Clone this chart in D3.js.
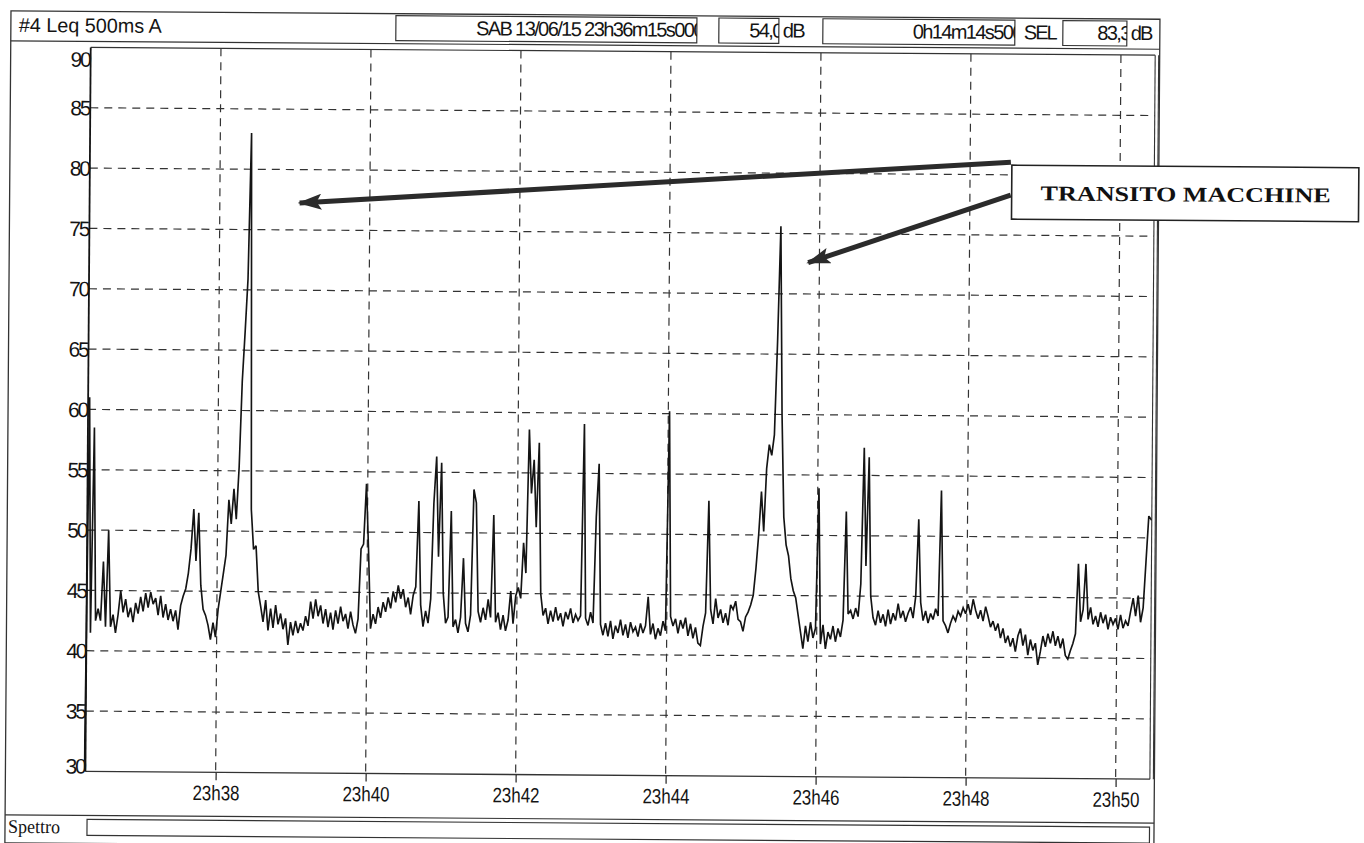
<!DOCTYPE html>
<html>
<head>
<meta charset="utf-8">
<script src="https://cdn.jsdelivr.net/npm/d3@7"></script>
<style>
  html, body { margin: 0; padding: 0; background: #ffffff; }
  svg { display: block; font-family: "Liberation Sans", Arial, sans-serif; }
</style>
</head>
<body>
<svg id="chart" width="1364" height="843"></svg>
<script>
// Leq 500 ms (A) sound level, sampled every 2 s from 23h36m15s
const startTime = new Date(2015, 5, 13, 23, 36, 15);
const stepSeconds = 2;
const durationSeconds = 855;

const leq = [
  30, 61, 41.5, 58.5, 42.5, 43.5, 42.5, 47.4, 42,
  50, 42, 43, 41.5, 43, 45, 43.2, 44.3, 42.8, 43.6,
  42.4, 44.0, 43.1, 44.5, 43.3, 44.8, 43.6, 44.9, 43.9, 44.4,
  43.0, 44.6, 42.8, 43.9, 42.6, 43.5, 42.5, 43.4, 41.8, 43.8,
  44.6, 45.2, 46.5, 48.5, 51.8, 47.5, 51.5, 45.5, 43.5, 43.0,
  42.2, 41.0, 42.4, 41.2, 43.5, 45.0, 46.5, 48.0, 52.6, 50.6,
  53.5, 51.0, 55.3, 62.4, 66.5, 70.9, 83.0, 51.8, 48.5, 48.8,
  45.0, 43.8, 42.5, 44.3, 41.8, 43.6, 42.0, 43.9, 42.3, 43.2,
  41.9, 42.8, 40.6, 42.5, 41.4, 42.6, 41.6, 42.4, 41.8, 43.0,
  42.2, 44.2, 42.8, 44.4, 43.0, 43.9, 42.4, 43.6, 42.1, 43.3,
  41.9, 43.5, 42.4, 43.8, 42.6, 43.2, 42.0, 43.4, 42.3, 41.6,
  42.8, 48.6, 49.0, 54.0, 48.5, 42.0, 43.2, 42.4, 43.8, 42.9,
  44.2, 43.4, 44.6, 43.7, 45.1, 44.2, 45.6, 44.5, 45.3, 43.8,
  44.6, 43.2, 44.8, 45.5, 52.6, 44.0, 42.2, 43.5, 42.5, 44.5,
  52.4, 56.3, 48.0, 55.8, 45.0, 42.5, 43.0, 51.8, 42.2, 42.8,
  41.7, 43.0, 47.9, 42.5, 41.8, 43.2, 53.6, 52.5, 43.5, 42.6,
  43.8, 42.8, 44.5, 43.0, 51.5, 42.6, 43.4, 42.0, 43.2, 41.9,
  42.8, 45.2, 42.5, 44.8, 45.5, 44.6, 49.2, 46.7, 58.6, 53.3,
  56.1, 50.5, 57.5, 45.0, 43.2, 43.8, 42.5, 43.6, 42.7, 43.9,
  42.8, 43.4, 42.3, 43.5, 42.9, 43.8, 42.6, 43.3, 42.8, 43.2,
  59.1, 43.0, 42.4, 43.5, 42.6, 51.4, 55.8, 42.5, 41.6, 42.6,
  41.5, 42.8, 41.3, 42.4, 41.8, 42.9, 41.6, 42.5, 41.4, 42.7,
  41.9, 42.3, 41.5, 42.6, 41.8, 42.4, 44.8, 41.7, 42.6, 41.3,
  42.2, 41.6, 42.8, 42.0, 60.2, 43.2, 42.4, 43.0, 41.8, 42.9,
  42.2, 43.1, 41.6, 42.6, 41.4, 42.3, 41.0, 40.8, 42.4, 43.5,
  52.8, 43.8, 42.6, 44.7, 43.1, 43.8, 42.7, 43.5, 42.5, 44.2,
  43.8, 44.5, 43.0, 42.8, 42.0, 43.2, 43.6, 44.2, 45.0, 47.2,
  50.0, 53.6, 50.3, 55.5, 57.5, 56.6, 58.3, 66.0, 75.6, 60.0,
  51.5, 49.2, 48.3, 46.4, 45.4, 44.8, 43.4, 42.0, 40.6, 42.5,
  41.2, 42.8, 41.5, 42.3, 53.9, 41.0, 42.6, 40.6, 42.0, 41.4,
  42.5, 41.2, 42.3, 41.6, 43.0, 52.0, 43.5, 43.8, 43.1, 44.0,
  43.3, 46.0, 57.3, 47.5, 56.5, 45.0, 43.2, 42.6, 43.8, 42.8,
  43.5, 42.5, 43.9, 42.7, 43.6, 43.0, 44.4, 43.2, 43.8, 42.9,
  43.6, 44.1, 43.2, 45.0, 51.4, 44.5, 43.0, 43.8, 42.8, 43.6,
  43.1, 44.0, 43.4, 53.8, 43.0, 42.6, 42.0, 42.8, 43.4, 43.0,
  43.8, 43.4, 44.1, 43.6, 44.4, 43.5, 44.8, 43.9, 43.2, 43.9,
  43.0, 44.2, 43.4, 42.5, 43.0, 42.2, 42.8, 41.6, 42.4, 41.2,
  41.8, 40.9, 41.6, 40.5, 41.8, 42.4, 41.0, 41.9, 40.2, 41.5,
  40.6, 41.2, 39.4, 40.5, 41.8, 40.9, 42.0, 41.2, 42.2, 41.0,
  41.8, 40.8, 41.6, 40.2, 39.9, 40.6, 41.2, 42.0, 47.8, 43.0,
  44.0, 47.8, 43.2, 44.2, 42.8, 43.5, 42.6, 43.8, 42.9, 43.6,
  42.4, 43.4, 42.8, 43.3, 42.4, 43.6, 42.5, 43.1, 42.7, 43.9,
  45.0, 43.5, 45.2, 43.0, 44.2, 48.0, 51.8, 51.5, 51.5
];

const yTickValues = [30, 35, 40, 45, 50, 55, 60, 65, 70, 75, 80, 85, 90];
const xTickTimes = ["23:38", "23:40", "23:42", "23:44", "23:46", "23:48", "23:50"];

// header fields: label, start date/time, Leq, duration, SEL
const channelLabel = "#4 Leq 500ms A";
const startLabel = "SAB 13/06/15 23h36m15s000";
const leqTotal = "54,0";
const durationLabel = "0h14m14s500";
const selLabel = "SEL";
const selValue = "83,3";
const unitLabel = "dB";
const spectrumLabel = "Spettro";
const annotationLabel = "TRANSITO MACCHINE";

// ---------------------------------------------------------------
const svg = d3.select("#chart");
const page = svg.append("g").attr("transform", "rotate(0.42 580 420)");

const plot = { left: 88, right: 1152.5, top: 51, bottom: 775 };
const frame = { left: 8, right: 1157, top: 15, bottom: 847 };

const endTime = new Date(startTime.getTime() + durationSeconds * 1000);
const x = d3.scaleTime().domain([startTime, endTime]).range([87, 87 + durationSeconds / 60 * 75]);
const y = d3.scaleLinear().domain([30, 90]).range([plot.bottom, plot.top]);

const series = leq.map((v, i) => ({ t: new Date(startTime.getTime() + i * stepSeconds * 1000), v }));
const tickDates = xTickTimes.map(s => {
  const [h, m] = s.split(":").map(Number);
  return new Date(2015, 5, 13, h, m, 0);
});

const ink = "#141414";

// outer frame
page.append("rect")
  .attr("x", frame.left).attr("y", frame.top)
  .attr("width", frame.right - frame.left).attr("height", frame.bottom - frame.top)
  .attr("fill", "none").attr("stroke", "#333").attr("stroke-width", 1.3);

// header row
const headerBottom = 45;
page.append("line").attr("x1", frame.left).attr("x2", frame.right)
  .attr("y1", headerBottom).attr("y2", headerBottom)
  .attr("stroke", "#333").attr("stroke-width", 1.2);

const defs = svg.append("defs");
function field(id, x0, x1, txt, anchorX) {
  defs.append("clipPath").attr("id", id)
    .append("rect").attr("x", x0).attr("y", 16).attr("width", x1 - x0).attr("height", 27);
  page.append("rect").attr("x", x0).attr("y", 17).attr("width", x1 - x0).attr("height", 25)
    .attr("fill", "none").attr("stroke", "#333").attr("stroke-width", 1.2);
  page.append("text").attr("clip-path", `url(#${id})`)
    .attr("x", anchorX).attr("y", 36).attr("text-anchor", "end")
    .attr("font-size", 20).attr("letter-spacing", -1.6).attr("fill", ink).text(txt);
}
page.append("text").attr("x", 16).attr("y", 36).attr("font-size", 20).attr("fill", ink)
  .attr("textLength", 143).attr("lengthAdjust", "spacingAndGlyphs").text(channelLabel);

field("f1", 393, 694, startLabel, 700);
field("f2", 716, 776, leqTotal, 779);
page.append("text").attr("x", 780).attr("y", 36).attr("font-size", 20).attr("fill", ink)
  .attr("letter-spacing", -1.8).text(unitLabel);
field("f3", 820, 1012, durationLabel, 1019);
page.append("text").attr("x", 1021).attr("y", 36).attr("font-size", 20).attr("fill", ink)
  .attr("letter-spacing", -2).text(selLabel);
field("f4", 1060, 1124, selValue, 1127);
page.append("text").attr("x", 1128).attr("y", 36).attr("font-size", 20).attr("fill", ink)
  .attr("letter-spacing", -1.8).text(unitLabel);

// grid
const grid = page.append("g").attr("stroke", "#333").attr("stroke-width", 1.2)
  .attr("stroke-dasharray", "8,6");
grid.selectAll("line.h").data(yTickValues.filter(v => v > 30 && v < 90)).join("line")
  .attr("class", "h")
  .attr("x1", plot.left).attr("x2", plot.right)
  .attr("y1", d => y(d)).attr("y2", d => y(d));
grid.selectAll("line.v").data(tickDates).join("line")
  .attr("class", "v")
  .attr("x1", d => x(d)).attr("x2", d => x(d))
  .attr("y1", plot.top).attr("y2", plot.bottom);

// plot frame
page.append("line").attr("x1", plot.left).attr("x2", plot.right).attr("y1", plot.top).attr("y2", plot.top)
  .attr("stroke", "#333").attr("stroke-width", 1.2);
page.append("line").attr("x1", plot.left).attr("x2", plot.right).attr("y1", plot.bottom).attr("y2", plot.bottom)
  .attr("stroke", "#333").attr("stroke-width", 1.3);
page.append("line").attr("x1", plot.left).attr("x2", plot.left).attr("y1", plot.top).attr("y2", plot.bottom)
  .attr("stroke", ink).attr("stroke-width", 1.8);
[plot.right, plot.right + 3.5].forEach(px => {
  page.append("line").attr("x1", px).attr("x2", px).attr("y1", plot.top).attr("y2", plot.bottom)
    .attr("stroke", "#333").attr("stroke-width", 1.1);
});

// y axis labels
const yAxis = d3.axisLeft(y).tickValues(yTickValues).tickSize(0).tickPadding(1).tickFormat(d3.format("d"));
const yg = page.append("g").attr("transform", `translate(${plot.left},0)`).call(yAxis);
yg.select(".domain").remove();
yg.selectAll("text")
  .attr("font-size", 21).attr("letter-spacing", -2.2).attr("fill", ink)
  .attr("font-family", "Liberation Sans, Arial, sans-serif")
  .attr("dy", d => d === 90 ? "0.9em" : d === 30 ? "0.08em" : "0.34em");

// x axis: ticks below the frame and labels
const xAxis = d3.axisBottom(x).tickValues(tickDates).tickSize(8).tickPadding(5)
  .tickFormat(d3.timeFormat("%Hh%M"));
const xg = page.append("g").attr("transform", `translate(0,${plot.bottom})`).call(xAxis);
xg.select(".domain").remove();
xg.selectAll(".tick line").attr("stroke", "#333").attr("stroke-width", 1.3);
xg.selectAll("text")
  .attr("font-size", 21).attr("fill", ink)
  .attr("font-family", "Liberation Sans, Arial, sans-serif")
  .attr("textLength", 47).attr("lengthAdjust", "spacingAndGlyphs");

// spectrum row
page.append("line").attr("x1", frame.left).attr("x2", frame.right).attr("y1", 819).attr("y2", 819)
  .attr("stroke", "#333").attr("stroke-width", 1.2);
page.append("rect").attr("x", 90).attr("y", 823).attr("width", plot.right - 90).attr("height", 16)
  .attr("fill", "none").attr("stroke", "#333").attr("stroke-width", 1.2);
page.append("text").attr("x", 11).attr("y", 837).attr("font-size", 19).attr("fill", ink)
  .attr("font-family", "Liberation Serif, Times New Roman, serif")
  .attr("textLength", 52).attr("lengthAdjust", "spacingAndGlyphs").text(spectrumLabel);

// trace
defs.append("clipPath").attr("id", "plotClip")
  .append("rect").attr("x", plot.left - 2).attr("y", plot.top).attr("width", plot.right - plot.left + 2).attr("height", plot.bottom - plot.top);
const line = d3.line().x(d => x(d.t)).y(d => y(d.v));
page.append("path").datum(series)
  .attr("clip-path", "url(#plotClip)")
  .attr("d", line)
  .attr("fill", "none").attr("stroke", ink).attr("stroke-width", 1.65)
  .attr("stroke-linejoin", "miter").attr("stroke-miterlimit", 3);

// annotation: callout box and arrows
defs.append("marker").attr("id", "head")
  .attr("markerUnits", "userSpaceOnUse")
  .attr("viewBox", "0 0 24 16").attr("refX", 22).attr("refY", 8)
  .attr("markerWidth", 24).attr("markerHeight", 16).attr("orient", "auto")
  .append("path").attr("d", "M0,0 L24,8 L0,16 L5,8 Z").attr("fill", "#2b2b2b");

const arrows = [
  { from: [1009, 159], to: [298, 205] },
  { from: [1009, 192], to: [807, 261] }
];
page.selectAll("line.arrow").data(arrows).join("line")
  .attr("class", "arrow")
  .attr("x1", d => d.from[0]).attr("y1", d => d.from[1])
  .attr("x2", d => d.to[0]).attr("y2", d => d.to[1])
  .attr("stroke", "#2b2b2b").attr("stroke-width", 5)
  .attr("marker-end", "url(#head)");

page.append("rect").attr("x", 1010).attr("y", 162).attr("width", 347).attr("height", 54)
  .attr("fill", "#fff").attr("stroke", "#222").attr("stroke-width", 1.6);
page.append("text").attr("x", 1184).attr("y", 197).attr("text-anchor", "middle")
  .attr("font-family", "Liberation Serif, Times New Roman, serif")
  .attr("font-weight", "bold").attr("font-size", 21).attr("fill", "#111")
  .attr("textLength", 290).attr("lengthAdjust", "spacingAndGlyphs")
  .text(annotationLabel);
</script>
</body>
</html>
